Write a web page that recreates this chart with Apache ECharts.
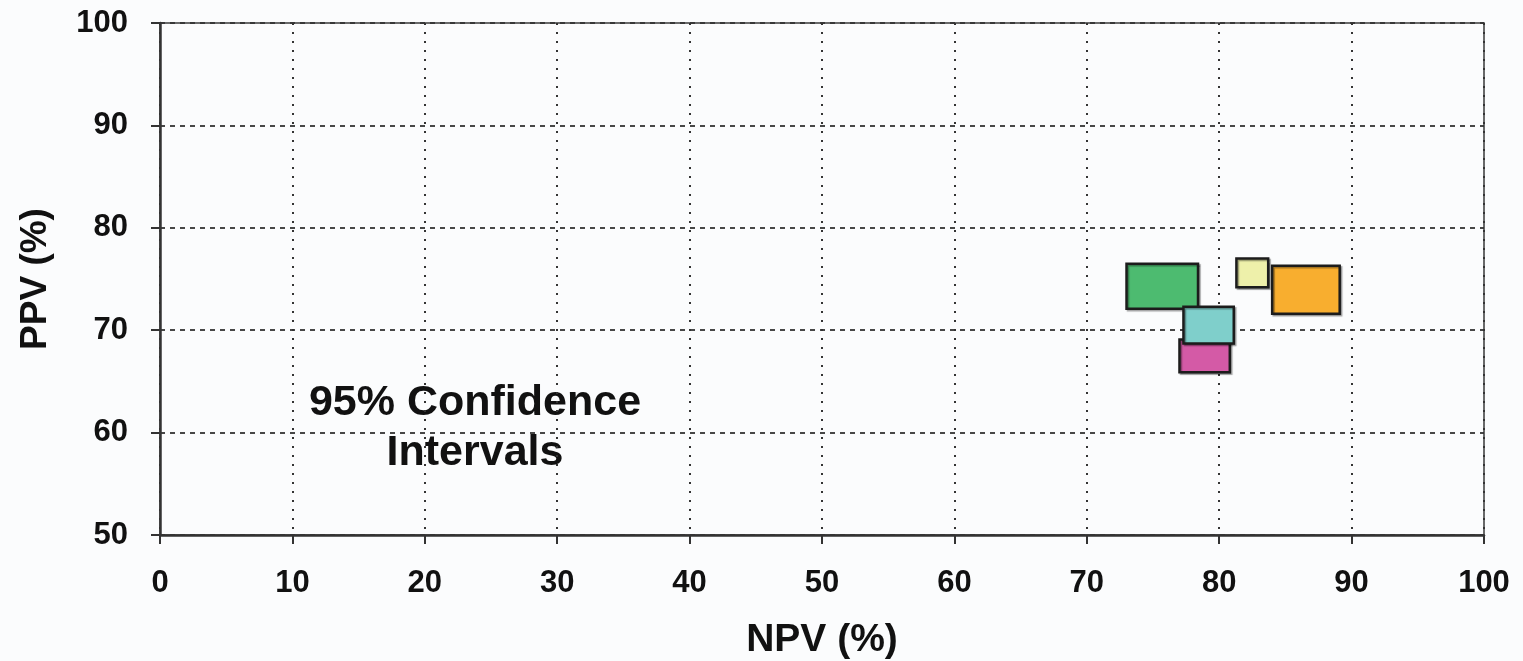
<!DOCTYPE html>
<html>
<head>
<meta charset="utf-8">
<script src="https://cdn.jsdelivr.net/npm/echarts@6/dist/echarts.min.js"></script>
<style>
html,body{margin:0;padding:0;background:#fbfcfd;}
#chart{width:1523px;height:661px;}
</style>
</head>
<body>
<div id="chart"></div>
<script>
// Data
const groupNames = ['A', 'B', 'C', 'D', 'E'];
const npvLow  = [73.0, 77.0, 77.3, 81.3, 84.0];
const npvHigh = [78.4, 80.8, 81.1, 83.7, 89.1];
const ppvLow  = [72.1, 65.9, 68.7, 74.2, 71.6];
const ppvHigh = [76.5, 69.1, 72.3, 77.0, 76.3];
const xTicks = [0, 10, 20, 30, 40, 50, 60, 70, 80, 90, 100];
const yTicks = [50, 60, 70, 80, 90, 100];
const noteLines = ['95% Confidence', 'Intervals'];

// Styles
const fillColors = ['#4dbb70', '#d45aa6', '#7fcfcb', '#eef0aa', '#f8ae2f'];
const FONT = '"Liberation Sans", Arial, sans-serif';

const data = groupNames.map((n, i) => ({
  name: n,
  value: [npvLow[i], npvHigh[i], ppvLow[i], ppvHigh[i]],
  itemStyle: { color: fillColors[i] }
}));

const chart = echarts.init(document.getElementById('chart'));
chart.setOption({
  backgroundColor: '#fbfcfd',
  animation: false,
  grid: {
    left: 160, right: 39, top: 23, bottom: 126,
    containLabel: false, outerBoundsMode: 'none',
    show: true, borderColor: '#3a3a3a', borderWidth: 1.5, backgroundColor: 'transparent'
  },
  xAxis: {
    type: 'value', min: xTicks[0], max: xTicks[xTicks.length - 1], interval: 10,
    name: 'NPV (%)', nameLocation: 'middle', nameGap: 86,
    nameTextStyle: { fontFamily: FONT, fontWeight: 'bold', fontSize: 39, color: '#111' },
    axisLine: { show: true, lineStyle: { color: '#333', width: 2.5 } },
    axisTick: { show: true, length: 9, lineStyle: { color: '#333', width: 2 } },
    axisLabel: { fontFamily: FONT, fontWeight: 'bold', fontSize: 31, color: '#111', margin: 33 },
    splitLine: { show: true, lineStyle: { color: '#333', width: 2, type: [2, 7] } }
  },
  yAxis: {
    type: 'value', min: yTicks[0], max: yTicks[yTicks.length - 1], interval: 10,
    name: 'PPV (%)', nameLocation: 'middle', nameGap: 106, nameRotate: 90,
    nameTextStyle: { fontFamily: FONT, fontWeight: 'bold', fontSize: 37, color: '#111' },
    axisLine: { show: true, onZero: false, lineStyle: { color: '#333', width: 2.5 } },
    axisTick: { show: true, length: 9, lineStyle: { color: '#333', width: 2 } },
    axisLabel: { fontFamily: FONT, fontWeight: 'bold', fontSize: 31, color: '#111', margin: 32 },
    splitLine: { show: true, lineStyle: { color: '#333', width: 1.8, type: [5, 5] } }
  },
  graphic: [
    { type: 'text', z: -1,
      style: { text: noteLines[0], x: 475, y: 403, align: 'center', verticalAlign: 'middle',
               font: 'bold 43px ' + FONT, fill: '#111' } },
    { type: 'text', z: -1,
      style: { text: noteLines[1], x: 475, y: 453, align: 'center', verticalAlign: 'middle',
               font: 'bold 43px ' + FONT, fill: '#111' } }
  ],
  series: [{
    type: 'custom',
    data: data,
    encode: { x: [0, 1], y: [2, 3] },
    renderItem: function (params, api) {
      const p0 = api.coord([api.value(0), api.value(3)]);
      const p1 = api.coord([api.value(1), api.value(2)]);
      return {
        type: 'rect',
        shape: { x: p0[0], y: p0[1], width: p1[0] - p0[0], height: p1[1] - p0[1] },
        style: {
          fill: api.visual('color'),
          stroke: '#1c1c1c', lineWidth: 2.5,
          shadowColor: 'rgba(0,0,0,0.35)', shadowOffsetX: 1.5, shadowOffsetY: 1.5, shadowBlur: 1
        }
      };
    }
  }]
});
</script>
</body>
</html>
